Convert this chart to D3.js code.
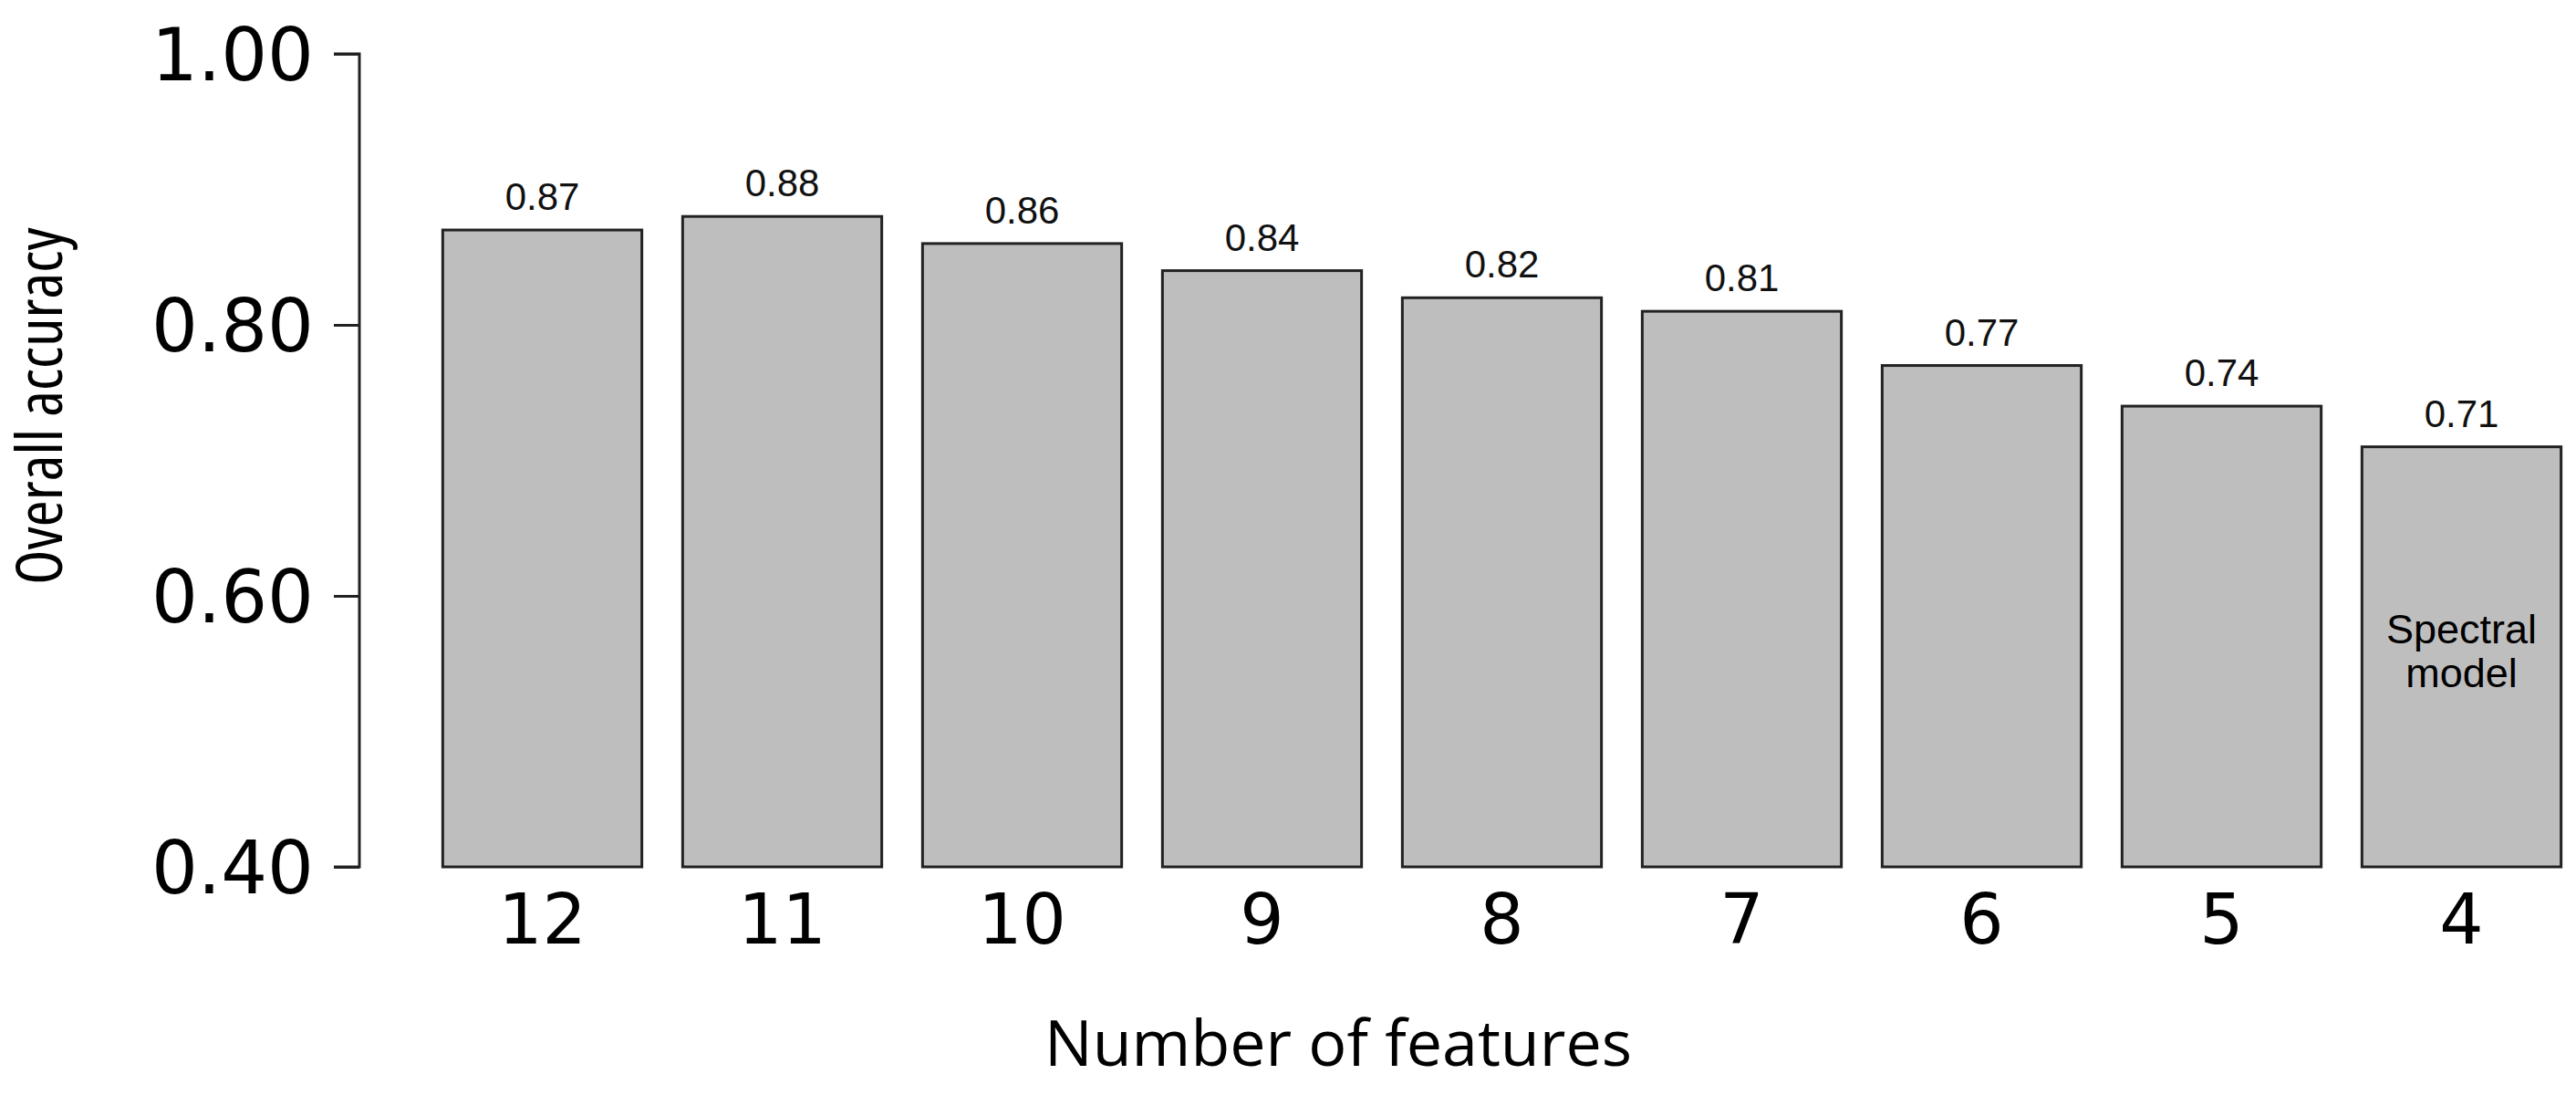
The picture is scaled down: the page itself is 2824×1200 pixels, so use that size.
<!DOCTYPE html>
<html>
<head>
<meta charset="utf-8">
<style>
  body { margin: 0; background: #fff; }
  text { font-family: "Liberation Sans", Arial, sans-serif; }
</style>
</head>
<body>
<svg id="chart" width="2824" height="1200"></svg>
<script src="https://cdn.jsdelivr.net/npm/d3@7"></script>
<script>
var categories = ['12', '11', '10', '9', '8', '7', '6', '5', '4'];
var accuracy = [0.87, 0.88, 0.86, 0.84, 0.82, 0.81, 0.77, 0.74, 0.71];
var yTicks = [0.40, 0.60, 0.80, 1.00];

var svg = d3.select('#chart');

var x = d3.scaleBand()
  .domain(categories)
  .range([463, 2830])
  .paddingInner(0.17)
  .paddingOuter(0.085);

var y = d3.scaleLinear()
  .domain([0.4, 1.0])
  .range([950, 59]);

// bars
svg.selectAll('rect.bar')
  .data(accuracy)
  .enter().append('rect')
  .attr('class', 'bar')
  .attr('x', function (d, i) { return x(categories[i]); })
  .attr('y', function (d) { return y(d); })
  .attr('width', x.bandwidth())
  .attr('height', function (d) { return y(0.4) - y(d); })
  .style('fill', '#bebebe')
  .style('stroke', '#222')
  .style('stroke-width', 3);

// value labels
svg.selectAll('text.val')
  .data(accuracy)
  .enter().append('text')
  .attr('class', 'val')
  .attr('x', function (d, i) { return x(categories[i]) + x.bandwidth() / 2; })
  .attr('y', function (d) { return y(d) - 22; })
  .attr('text-anchor', 'middle')
  .style('font-size', '42px')
  .style('fill', '#111')
  .text(function (d) { return d.toFixed(2); });

// note inside last bar
var lastX = x(categories[categories.length - 1]) + x.bandwidth() / 2;
svg.append('text')
  .attr('x', lastX).attr('y', 705)
  .attr('text-anchor', 'middle')
  .style('font-size', '45px')
  .text('Spectral');
svg.append('text')
  .attr('x', lastX).attr('y', 753)
  .attr('text-anchor', 'middle')
  .style('font-size', '45px')
  .text('model');

// y axis
var yAxis = d3.axisLeft(y).tickValues(yTicks).tickSize(28).tickPadding(22)
  .tickFormat(d3.format('.2f'));
var gy = svg.append('g')
  .attr('transform', 'translate(394,0)')
  .call(yAxis);
gy.select('.domain').attr('d', 'M-28,' + y(1) + 'H0V' + y(0.4) + 'H-28').style('stroke', '#222').style('stroke-width', 3);
gy.selectAll('.tick line').style('stroke', '#222').style('stroke-width', 3);
gy.selectAll('.tick text')
  .style('font-family', '"DejaVu Sans", sans-serif')
  .style('font-size', '80px')
  .style('fill', '#000')
  .attr('dy', '0.36em');

// x axis labels
var xAxis = d3.axisBottom(x).tickSize(0).tickPadding(30);
var gx = svg.append('g')
  .attr('transform', 'translate(0,' + y(0.4) + ')')
  .call(xAxis);
gx.select('.domain').remove();
gx.selectAll('.tick text')
  .style('font-family', '"DejaVu Sans", sans-serif')
  .style('font-size', '76px')
  .style('fill', '#000');

// axis titles
svg.append('text')
  .attr('x', 1467)
  .attr('y', 1168)
  .attr('text-anchor', 'middle')
  .style('font-family', '"Open Sans", sans-serif')
  .style('font-size', '70px')
  .text('Number of features');

svg.append('text')
  .attr('transform', 'translate(68,445) rotate(-90)')
  .attr('text-anchor', 'middle')
  .style('font-family', '"Open Sans", sans-serif')
  .style('font-size', '70px')
  .style('font-stretch', 'condensed')
  .text('Overall accuracy');
</script>
</body>
</html>
